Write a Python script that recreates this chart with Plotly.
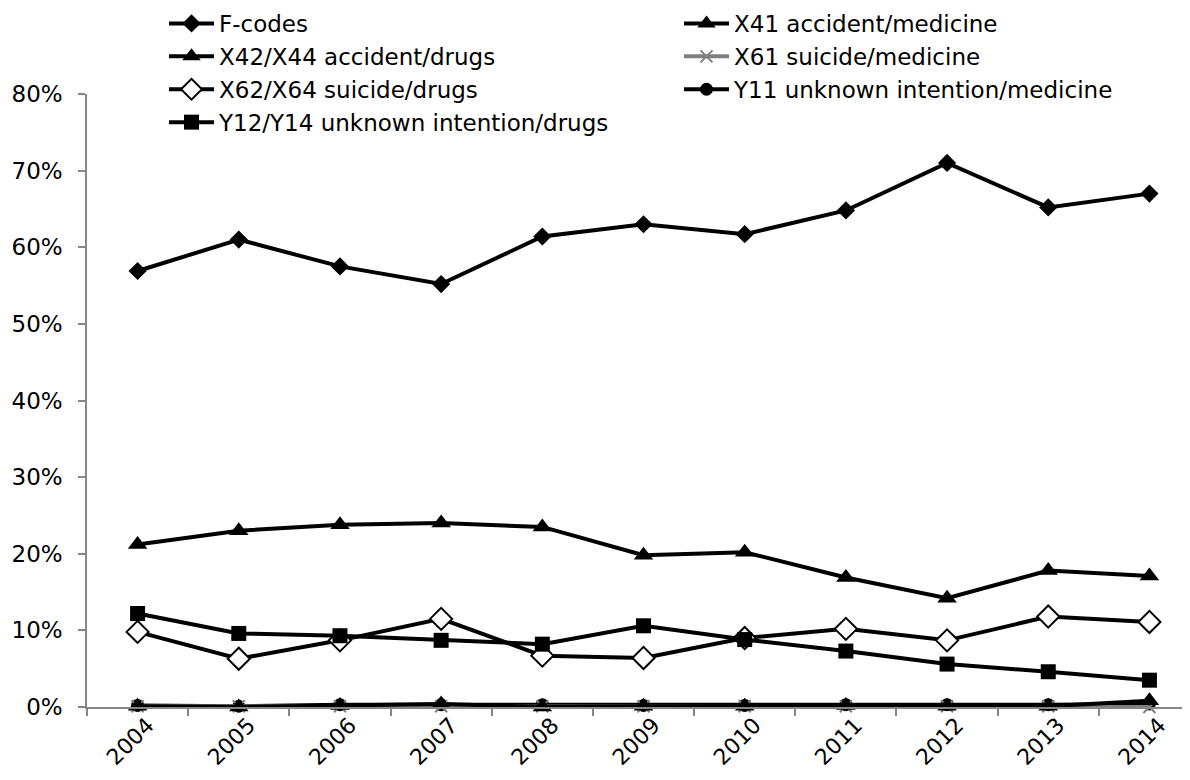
import plotly.graph_objects as go

years = ["2004", "2005", "2006", "2007", "2008", "2009", "2010", "2011", "2012", "2013", "2014"]

f_codes = [56.9, 61.0, 57.5, 55.2, 61.4, 63.0, 61.7, 64.8, 71.0, 65.2, 67.0]
x41_accident_medicine = [0.1, 0.0, 0.2, 0.4, 0.0, 0.1, 0.1, 0.2, 0.1, 0.1, 0.8]
x42_x44_accident_drugs = [21.2, 23.0, 23.8, 24.0, 23.5, 19.8, 20.2, 16.9, 14.2, 17.8, 17.1]
x61_suicide_medicine = [0.1, 0.1, 0.1, 0.1, 0.1, 0.1, 0.1, 0.1, 0.1, 0.1, 0.0]
x62_x64_suicide_drugs = [9.8, 6.3, 8.7, 11.5, 6.7, 6.4, 9.0, 10.2, 8.7, 11.8, 11.1]
y11_unknown_medicine = [0.2, 0.1, 0.3, 0.3, 0.3, 0.2, 0.2, 0.3, 0.3, 0.3, 0.4]
y12_y14_unknown_drugs = [12.2, 9.6, 9.3, 8.7, 8.2, 10.6, 8.8, 7.3, 5.6, 4.6, 3.5]

y_tick_vals = [0, 10, 20, 30, 40, 50, 60, 70, 80]
y_tick_text = ["0%", "10%", "20%", "30%", "40%", "50%", "60%", "70%", "80%"]

FONT = "DejaVu Sans"
BLACK = "#000000"
GRAY_LINE = "#7f7f7f"
AXIS_GRAY = "#868686"

W, H = 1190, 780
ML, MR, MT, MB = 79, 0, 86, 81
PLOT_W = W - ML - MR
PLOT_H = H - MT - MB

# (legend rank, name, values, marker, line colour) listed in drawing order
series = [
    (1, "F-codes", f_codes, dict(symbol="diamond", size=14, color=BLACK), BLACK),
    (6, "Y11 unknown intention/medicine", y11_unknown_medicine, dict(symbol="circle", size=13, color=BLACK), BLACK),
    (4, "X61 suicide/medicine", x61_suicide_medicine,
     dict(symbol="x-thin", size=12, color=GRAY_LINE, line=dict(color=GRAY_LINE, width=2)), GRAY_LINE),
    (2, "X41 accident/medicine", x41_accident_medicine, dict(symbol="triangle-up", size=17, color=BLACK), BLACK),
    (3, "X42/X44 accident/drugs", x42_x44_accident_drugs, dict(symbol="triangle-up", size=17, color=BLACK), BLACK),
    (5, "X62/X64 suicide/drugs", x62_x64_suicide_drugs,
     dict(symbol="diamond", size=17, color="white", line=dict(color=BLACK, width=2)), BLACK),
    (7, "Y12/Y14 unknown intention/drugs", y12_y14_unknown_drugs, dict(symbol="square", size=15, color=BLACK), BLACK),
]

fig = go.Figure()
for rank, name, vals, marker, lcolor in series:
    fig.add_trace(go.Scatter(
        x=years, y=vals, name=name, mode="lines+markers",
        line=dict(color=lcolor, width=4),
        marker=marker, cliponaxis=False, legendrank=rank,
    ))

fig.update_layout(
    width=W, height=H,
    paper_bgcolor="white", plot_bgcolor="white",
    margin=dict(l=ML, r=MR, t=MT, b=MB, autoexpand=False),
    font=dict(family=FONT, size=23, color=BLACK),
    showlegend=True,
    legend=dict(
        orientation="h",
        x=(156 - ML) / PLOT_W, y=1 + (MT + 6) / PLOT_H, xanchor="left", yanchor="top",
        entrywidth=455, entrywidthmode="pixels",
        font=dict(family=FONT, size=23, color=BLACK),
        bgcolor="rgba(0,0,0,0)", traceorder="normal",
        itemwidth=45,
    ),
    xaxis=dict(
        type="category", range=[-0.5, 10.48],
        showline=True, linecolor=AXIS_GRAY, linewidth=1.5,
        ticks="outside", tickson="boundaries", ticklen=7, tickcolor=AXIS_GRAY, tickwidth=1.5,
        tickangle=-45, showgrid=False, zeroline=False,
        ticklabelstandoff=-5, ticklabelshift=10,
        tickfont=dict(family=FONT, size=22, color=BLACK),
    ),
    yaxis=dict(
        range=[0, 80], tickvals=y_tick_vals, ticktext=y_tick_text,
        showline=True, linecolor=AXIS_GRAY, linewidth=1.5,
        ticks="outside", ticklen=7, tickcolor=AXIS_GRAY, tickwidth=1.5,
        showgrid=False, zeroline=False,
        ticklabelstandoff=11,
        tickfont=dict(family=FONT, size=23, color=BLACK),
    ),
)

fig.write_html("out.html")
